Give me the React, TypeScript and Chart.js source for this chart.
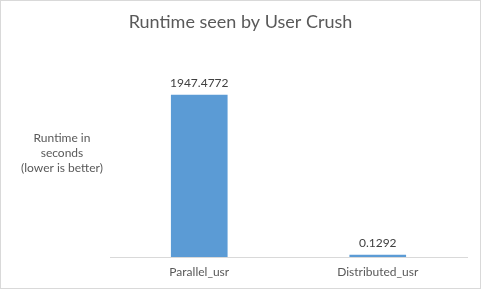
import React, { useEffect, useRef } from "react";
import { Chart, registerables } from "chart.js";

Chart.register(...registerables);

const categories = ["Parallel_usr", "Distributed_usr"];
const runtimeValues = [1947.4772, 0.1292];
const valueLabels = ["1947.4772", "0.1292"];
const chartTitle = "Runtime seen by User Crush";
const yAxisLabelLines = ["Runtime in", "seconds", "(lower is better)"];

const FONT = "Lato, 'Open Sans', sans-serif";
const TEXT = "#595959";

const decorPlugin = {
  id: "decor",
  beforeDraw(chart: any) {
    const { ctx, width, height } = chart;
    ctx.save();
    ctx.fillStyle = "#ffffff";
    ctx.fillRect(0, 0, width, height);
    ctx.restore();
  },
  afterDraw(chart: any) {
    const { ctx, width, height } = chart;
    ctx.save();
    // frame
    ctx.strokeStyle = "#d9d9d9";
    ctx.lineWidth = 1;
    ctx.strokeRect(0.5, 0.5, width - 1, height - 1);
    // title centered on the whole chart
    ctx.fillStyle = TEXT;
    ctx.textAlign = "center";
    ctx.textBaseline = "middle";
    ctx.font = `18px ${FONT}`;
    ctx.fillText(chartTitle, width / 2, 22);
    // y axis label (horizontal)
    ctx.font = `12px ${FONT}`;
    yAxisLabelLines.forEach((line, i) => {
      ctx.fillText(line, 62, 138 + i * 15);
    });
    // data labels
    const meta = chart.getDatasetMeta(0);
    ctx.fillStyle = "#404040";
    meta.data.forEach((bar: any, i: number) => {
      ctx.fillText(valueLabels[i], bar.x, bar.y - 12);
    });
    ctx.restore();
  },
};

export default function App() {
  const ref = useRef<HTMLCanvasElement>(null);
  useEffect(() => {
    document.body.style.margin = "0";
    const chart = new Chart(ref.current!, {
      type: "bar",
      data: {
        labels: categories,
        datasets: [
          {
            data: runtimeValues,
            backgroundColor: "#5b9bd5",
            barThickness: 56,
            minBarLength: 2,
          },
        ],
      },
      options: {
        responsive: false,
        animation: false,
        layout: { padding: { left: 110, right: 14, top: 49, bottom: 0 } },
        plugins: {
          legend: { display: false },
          tooltip: { enabled: false },
          title: { display: false },
        },
        scales: {
          x: {
            grid: { display: false, drawTicks: false },
            border: { display: true, color: "#d9d9d9", width: 1 },
            ticks: { color: TEXT, font: { family: FONT, size: 12 }, padding: 8 },
            afterFit: (scale: any) => {
              scale.height = 32;
            },
          },
          y: {
            display: false,
            min: 0,
            max: 2500,
          },
        },
      },
      plugins: [decorPlugin],
    });
    return () => chart.destroy();
  }, []);
  return <canvas ref={ref} width={481} height={289} style={{ display: "block" }} />;
}
